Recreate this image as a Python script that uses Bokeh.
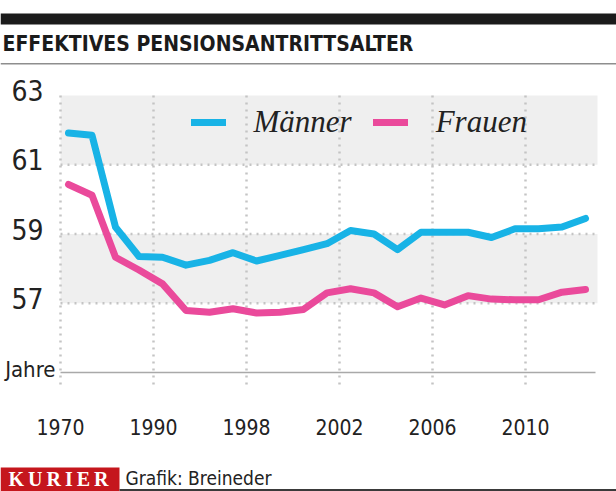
from bokeh.plotting import figure
from bokeh.models import Range1d, BoxAnnotation, Label, Legend, LegendItem
from bokeh.core.properties import value
from bokeh.embed import file_html
from bokeh.resources import INLINE

# ---------------- data ----------------
TITLE = "EFFEKTIVES PENSIONSANTRITTSALTER"
SERIES_NAMES = ["Männer", "Frauen"]
MAENNER = [61.92, 61.85, 59.2, 58.35, 58.33, 58.1, 58.24, 58.46, 58.22, 58.38,
           58.55, 58.72, 59.1, 59.0, 58.55, 59.05, 59.05, 59.05, 58.9, 59.15,
           59.15, 59.2, 59.45]
FRAUEN = [60.43, 60.12, 58.33, 57.96, 57.56, 56.79, 56.74, 56.84, 56.72, 56.74,
          56.82, 57.3, 57.42, 57.3, 56.9, 57.15, 56.95, 57.22, 57.12, 57.1,
          57.1, 57.32, 57.4]
X_TICK_LABELS = ["1970", "1990", "1998", "2002", "2006", "2010"]
Y_TICKS = [57, 59, 61, 63]
Y_GRID = [57, 59, 61]
BANDS = [(61, 63), (57, 59)]
Y_BASE = 55
Y_UNIT = "Jahre"
SOURCE = "KURIER"
CREDIT = "Grafik: Breineder"

# ---------------- layout helpers ----------------
W, H = 616, 491

def dx(px):          # pixel column -> x data value (index units)
    return (px - 68) / 23.5

def dy(py):          # pixel row -> y data value (years of age)
    return 55 + (372 - py) / 34.625

BLUE = "#18b3e6"
PINK = "#ea4a9b"
TXT = "#222222"
GRID = "#c4c4c4"
SANS_S = "'DejaVu Sans Condensed', 'DejaVu Sans', sans-serif"
SANS = value(SANS_S)

x = list(range(len(MAENNER)))
x_ticks = [dx(60) + k * 93 / 23.5 for k in range(len(X_TICK_LABELS))]

p = figure(width=W, height=H, output_backend="svg", toolbar_location=None,
           x_range=Range1d(dx(0), dx(W)), y_range=Range1d(dy(H), dy(0)),
           x_axis_type=None, y_axis_type=None, min_border=0)
p.outline_line_color = None
p.background_fill_color = "white"
p.border_fill_color = "white"
p.grid.visible = False

# bands
for lo, hi in BANDS:
    p.add_layout(BoxAnnotation(left=dx(60), right=dx(597), bottom=lo, top=hi,
                               fill_color="#efefef", fill_alpha=1, line_alpha=0,
                               level="image"))

# dotted grid
p.segment(x0=[dx(60)] * len(Y_GRID), x1=[dx(597)] * len(Y_GRID),
          y0=Y_GRID, y1=Y_GRID, line_color=GRID, line_width=2.5,
          line_dash="2 5", level="underlay")
p.segment(x0=x_ticks, x1=x_ticks, y0=[max(Y_TICKS)] * len(x_ticks),
          y1=[dy(386)] * len(x_ticks), line_color=GRID, line_width=2.5,
          line_dash="2 5", level="underlay")
# base line
p.segment(x0=[dx(60)], x1=[dx(595)], y0=[Y_BASE], y1=[Y_BASE],
          line_color="#a9a9a9", line_width=1.5, level="underlay")

# tick labels
p.text(x=[dx(43)] * len(Y_TICKS), y=Y_TICKS, text=[str(t) for t in Y_TICKS],
       text_align="right", text_baseline="middle", y_offset=-5,
       text_font=SANS, text_font_size="28px", text_color=TXT)
p.text(x=x_ticks, y=[dy(426)] * len(x_ticks), text=X_TICK_LABELS,
       text_align="center", text_baseline="middle",
       text_font=SANS, text_font_size="21px", text_color=TXT)
p.add_layout(Label(x=dx(55), y=Y_BASE, text=Y_UNIT, text_align="right",
                   text_baseline="middle", y_offset=3, text_font=SANS_S,
                   text_font_size="22px", text_color=TXT))

# series
r1 = p.line(x, MAENNER, line_color=BLUE, line_width=7, line_join="round",
            line_cap="round")
r2 = p.line(x, FRAUEN, line_color=PINK, line_width=7, line_join="round",
            line_cap="round")

legend = Legend(items=[LegendItem(label=SERIES_NAMES[0], renderers=[r1]),
                       LegendItem(label=SERIES_NAMES[1], renderers=[r2])],
                orientation="horizontal", location=(190.5, 351),
                glyph_width=35, glyph_height=36, label_height=36,
                label_standoff=28, spacing=21, padding=0, margin=0,
                border_line_alpha=0, background_fill_alpha=0,
                label_text_font="Liberation Serif",
                label_text_font_style="italic",
                label_text_font_size="31px", label_text_color=TXT)
p.add_layout(legend)

# header
p.add_layout(BoxAnnotation(left=dx(0), right=dx(W), top=dy(13), bottom=dy(24),
                           fill_color="#1b1b1b", fill_alpha=1, line_alpha=0))
p.add_layout(BoxAnnotation(left=dx(0), right=dx(W), top=dy(62.5), bottom=dy(64),
                           fill_color="#8e8e8e", fill_alpha=1, line_alpha=0))
p.add_layout(Label(x=dx(2), y=dy(43), text=TITLE, text_align="left",
                   text_baseline="middle", text_font=SANS_S,
                   text_font_style="bold", text_font_size="21px",
                   text_color="#1b1b1b"))

# footer
p.add_layout(BoxAnnotation(left=dx(0), right=dx(119), top=dy(467), bottom=dy(H),
                           fill_color="#c5161d", fill_alpha=1, line_alpha=0))
p.add_layout(BoxAnnotation(left=dx(119), right=dx(W), top=dy(488.5), bottom=dy(490.5),
                           fill_color="#3a3a3a", fill_alpha=1, line_alpha=0))
p.add_layout(Label(x=dx(8), y=dy(478), text="\u2009".join(SOURCE),
                   text_align="left", text_baseline="middle",
                   text_font="Liberation Serif", text_font_style="bold",
                   text_font_size="20px", text_color="white"))
p.add_layout(Label(x=dx(125), y=dy(477), text=CREDIT, text_align="left",
                   text_baseline="middle", text_font=SANS_S,
                   text_font_size="19px", text_color=TXT))

open("out.html", "w").write(file_html(p, INLINE))
